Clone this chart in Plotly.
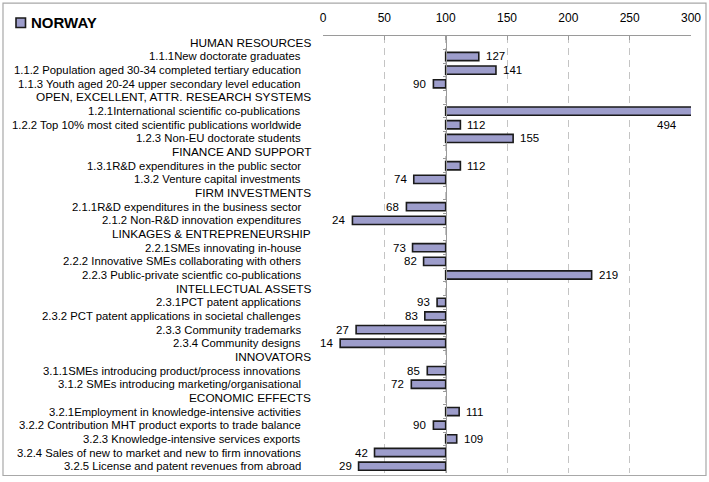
import plotly.graph_objects as go

title = "NORWAY"
labels = [
    "HUMAN RESOURCES",
    "1.1.1New doctorate graduates",
    "1.1.2 Population aged 30-34 completed tertiary education",
    "1.1.3 Youth aged 20-24 upper secondary level education",
    "OPEN, EXCELLENT, ATTR. RESEARCH SYSTEMS",
    "1.2.1International scientific co-publications",
    "1.2.2 Top 10% most cited scientific publications worldwide",
    "1.2.3 Non-EU doctorate students",
    "FINANCE AND SUPPORT",
    "1.3.1R&D expenditures in the public sector",
    "1.3.2 Venture capital investments",
    "FIRM INVESTMENTS",
    "2.1.1R&D expenditures in the business sector",
    "2.1.2 Non-R&D innovation expenditures",
    "LINKAGES & ENTREPRENEURSHIP",
    "2.2.1SMEs innovating in-house",
    "2.2.2 Innovative SMEs collaborating with others",
    "2.2.3 Public-private scientfic co-publications",
    "INTELLECTUAL ASSETS",
    "2.3.1PCT patent applications",
    "2.3.2 PCT patent applications in societal challenges",
    "2.3.3 Community trademarks",
    "2.3.4 Community designs",
    "INNOVATORS",
    "3.1.1SMEs introducing product/process innovations",
    "3.1.2 SMEs introducing marketing/organisational",
    "ECONOMIC EFFECTS",
    "3.2.1Employment in knowledge-intensive activities",
    "3.2.2 Contribution MHT product exports to trade balance",
    "3.2.3 Knowledge-intensive services exports",
    "3.2.4 Sales of new to market and new to firm innovations",
    "3.2.5 License and patent revenues from abroad",
]
values = [
    None, 127, 141, 90,
    None, 494, 112, 155,
    None, 112, 74,
    None, 68, 24,
    None, 73, 82, 219,
    None, 93, 83, 27, 14,
    None, 85, 72,
    None, 111, 90, 109, 42, 29,
]
baseline = 100
axis_max = 300
tick_vals = [0, 50, 100, 150, 200, 250, 300]

FONT = "Arial, Liberation Sans, sans-serif"
TXT = "#000000"

rows = list(range(len(labels)))
bar_rows = [r for r in rows if values[r] is not None]
bar_vals = [values[r] for r in bar_rows]

fig = go.Figure()
fig.add_trace(go.Bar(
    orientation="h",
    y=bar_rows,
    x=[v - baseline for v in bar_vals],
    base=baseline,
    width=0.6,
    marker=dict(color="#9d9dcb", line=dict(color="#1a1a1a", width=1.6)),
    showlegend=False,
    hoverinfo="skip",
))

annotations = []
# row labels
for r in rows:
    header = values[r] is None
    annotations.append(dict(
        xref="paper", yref="y",
        x=(313 - 323) / 368 if header else (303 - 323) / 368,
        y=r, xanchor="right", yanchor="middle",
        text=labels[r], showarrow=False,
        font=dict(family=FONT, size=11.8 if header else 11.3, color=TXT),
    ))
# value labels
for r, v in zip(bar_rows, bar_vals):
    if v > axis_max:
        annotations.append(dict(xref="x", yref="y", x=axis_max, y=r + 1,
                                xanchor="right", xshift=-12, text=str(v),
                                showarrow=False,
                                font=dict(family=FONT, size=11.5, color=TXT)))
    elif v >= baseline:
        annotations.append(dict(xref="x", yref="y", x=v, y=r,
                                xanchor="left", xshift=5, text=str(v),
                                showarrow=False,
                                font=dict(family=FONT, size=11.5, color=TXT)))
    else:
        annotations.append(dict(xref="x", yref="y", x=v, y=r,
                                xanchor="right", xshift=-5, text=str(v),
                                showarrow=False,
                                font=dict(family=FONT, size=11.5, color=TXT)))
# title
annotations.append(dict(xref="paper", yref="paper",
                        x=(29 - 323) / 368, y=(473.5 - 22) / 437.5,
                        xanchor="left", yanchor="middle",
                        text="<b>" + title + "</b>", showarrow=False,
                        font=dict(family=FONT, size=15, color=TXT)))

def px_x(p):
    return (p - 323) / 368

def px_y(p):
    return (473.5 - p) / 437.5

shapes = [
    dict(type="rect", xref="paper", yref="paper",
         x0=px_x(3), x1=px_x(706), y0=px_y(476), y1=px_y(3),
         line=dict(color="#a8a8a8", width=1.2)),
    dict(type="rect", xref="paper", yref="paper",
         x0=px_x(16), x1=px_x(25.5), y0=px_y(27.5), y1=px_y(18),
         fillcolor="#9d9dcb", line=dict(color="#1a1a1a", width=1.6)),
]

fig.update_layout(
    width=709, height=482,
    margin=dict(l=323, r=18, t=36, b=8.5),
    paper_bgcolor="white", plot_bgcolor="white",
    font=dict(family=FONT, color=TXT),
    annotations=annotations, shapes=shapes,
    xaxis=dict(
        side="top", range=[0, axis_max], tickvals=tick_vals,
        showgrid=True, gridcolor="#c4c4c4", griddash="7px,5px", gridwidth=1,
        showline=True, linecolor="#9a9a9a", linewidth=1,
        ticks="inside", ticklen=4, tickcolor="#9a9a9a",
        tickfont=dict(family=FONT, size=12, color=TXT),
        ticklabelstandoff=8, zeroline=False, fixedrange=True,
    ),
    yaxis=dict(
        range=[len(labels) - 0.5, -0.5],
        anchor="free", position=baseline / axis_max,
        tickvals=[r + 0.5 for r in rows[:-1]],
        showticklabels=False, showgrid=False, zeroline=False,
        showline=True, linecolor="#9a9a9a", linewidth=1,
        ticks="outside", ticklen=3, tickcolor="#9a9a9a",
        fixedrange=True,
    ),
    bargap=0.4,
)

fig.write_html(
    "out.html",
    config={"displayModeBar": False},
    post_script="document.body.style.margin='0';document.body.style.overflow='hidden';",
)
